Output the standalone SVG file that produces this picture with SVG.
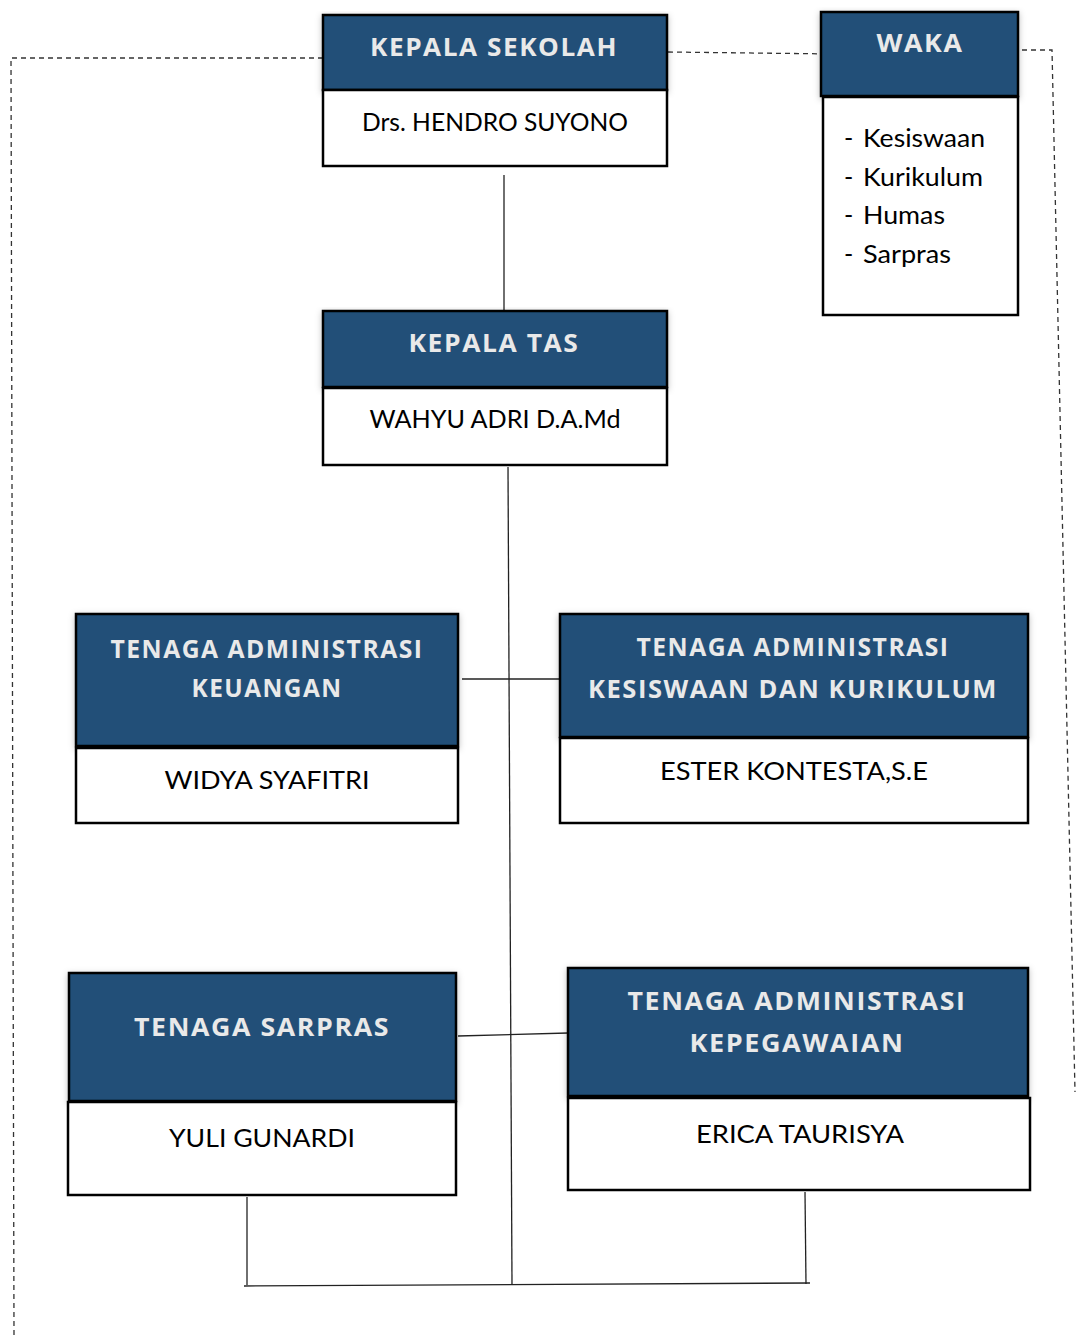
<svg xmlns="http://www.w3.org/2000/svg" width="1076" height="1338" viewBox="0 0 1076 1338">
<style>
.hd{fill:#214f78;stroke:#000;stroke-width:2.5}
.bd{fill:#fff;stroke:#000;stroke-width:2.5}
.ht{font-family:"Open Sans","Liberation Sans",sans-serif;font-weight:bold;font-size:25px;fill:#e9e9e9;text-anchor:middle;letter-spacing:1.5px}
.nt{font-family:Lato,"Open Sans",sans-serif;font-size:25px;fill:#000;text-anchor:middle}
.lt{font-family:Lato,"Open Sans",sans-serif;font-size:25px;fill:#000}
.ln{stroke:#222;stroke-width:1.3;fill:none}
.ds{stroke:#333;stroke-width:1.3;fill:none;stroke-dasharray:5,4}
</style>
<defs>
<filter id="sh" x="-5%" y="-5%" width="110%" height="115%">
<feDropShadow dx="0" dy="2" stdDeviation="3" flood-color="#000" flood-opacity="0.25"/>
</filter>
</defs>
<g id="connectors">
<path class="ds" d="M323,58 H11 L14,1335"/>
<path class="ds" d="M668,52 L835,54"/>
<path class="ds" d="M1022,50 H1052 L1075,1092"/>
<path class="ln" d="M504,175 V311"/>
<path class="ln" d="M508,467 L512,1285"/>
<path class="ln" d="M462,679 H560"/>
<path class="ln" d="M458,1036 L568,1033"/>
<path class="ln" d="M247,1197 V1285"/>
<path class="ln" d="M244,1286 L810,1283"/>
<path class="ln" d="M805,1192 L806,1284"/>
</g>
<g id="kepala-sekolah">
<rect class="hd" x="323" y="15" width="344" height="75" filter="url(#sh)"/>
<rect class="bd" x="323" y="90" width="344" height="76"/>
<text class="ht" x="494" y="56" textLength="248" lengthAdjust="spacingAndGlyphs">KEPALA SEKOLAH</text>
<text class="nt" x="495" y="131" textLength="266" lengthAdjust="spacingAndGlyphs">Drs. HENDRO SUYONO</text>
</g>
<g id="waka">
<rect class="hd" x="821" y="12" width="197" height="84" filter="url(#sh)"/>
<rect class="bd" x="823" y="97" width="195" height="218"/>
<text class="ht" x="920" y="52" textLength="87" lengthAdjust="spacingAndGlyphs">WAKA</text>
<text class="lt" x="844" y="147">-</text><text class="lt" x="863" y="147" textLength="122" lengthAdjust="spacingAndGlyphs">Kesiswaan</text>
<text class="lt" x="844" y="186">-</text><text class="lt" x="863" y="186" textLength="120" lengthAdjust="spacingAndGlyphs">Kurikulum</text>
<text class="lt" x="844" y="224">-</text><text class="lt" x="863" y="224" textLength="82" lengthAdjust="spacingAndGlyphs">Humas</text>
<text class="lt" x="844" y="263">-</text><text class="lt" x="863" y="263" textLength="88" lengthAdjust="spacingAndGlyphs">Sarpras</text>
</g>
<g id="kepala-tas">
<rect class="hd" x="323" y="311" width="344" height="76" filter="url(#sh)"/>
<rect class="bd" x="323" y="388" width="344" height="77"/>
<text class="ht" x="494" y="352" textLength="171" lengthAdjust="spacingAndGlyphs">KEPALA TAS</text>
<text class="nt" x="495" y="428" textLength="251" lengthAdjust="spacingAndGlyphs">WAHYU ADRI D.A.Md</text>
</g>
<g id="tenaga-keuangan">
<rect class="hd" x="76" y="614" width="382" height="132" filter="url(#sh)"/>
<rect class="bd" x="76" y="748" width="382" height="75"/>
<text class="ht" x="267" y="658" textLength="313" lengthAdjust="spacingAndGlyphs">TENAGA ADMINISTRASI</text>
<text class="ht" x="267" y="697" textLength="151" lengthAdjust="spacingAndGlyphs">KEUANGAN</text>
<text class="nt" x="267" y="789" textLength="205" lengthAdjust="spacingAndGlyphs">WIDYA SYAFITRI</text>
</g>
<g id="tenaga-kesiswaan">
<rect class="hd" x="560" y="614" width="468" height="123" filter="url(#sh)"/>
<rect class="bd" x="560" y="738" width="468" height="85"/>
<text class="ht" x="793" y="656" textLength="313" lengthAdjust="spacingAndGlyphs">TENAGA ADMINISTRASI</text>
<text class="ht" x="793" y="698" textLength="410" lengthAdjust="spacingAndGlyphs">KESISWAAN DAN KURIKULUM</text>
<text class="nt" x="794" y="780" textLength="268" lengthAdjust="spacingAndGlyphs">ESTER KONTESTA,S.E</text>
</g>
<g id="tenaga-sarpras">
<rect class="hd" x="69" y="973" width="387" height="128" filter="url(#sh)"/>
<rect class="bd" x="68" y="1102" width="388" height="93"/>
<text class="ht" x="262" y="1036" textLength="256" lengthAdjust="spacingAndGlyphs">TENAGA SARPRAS</text>
<text class="nt" x="262" y="1147" textLength="186" lengthAdjust="spacingAndGlyphs">YULI GUNARDI</text>
</g>
<g id="tenaga-kepegawaian">
<rect class="hd" x="568" y="968" width="460" height="128" filter="url(#sh)"/>
<rect class="bd" x="568" y="1098" width="462" height="92"/>
<text class="ht" x="797" y="1010" textLength="339" lengthAdjust="spacingAndGlyphs">TENAGA ADMINISTRASI</text>
<text class="ht" x="797" y="1052" textLength="215" lengthAdjust="spacingAndGlyphs">KEPEGAWAIAN</text>
<text class="nt" x="800" y="1143" textLength="208" lengthAdjust="spacingAndGlyphs">ERICA TAURISYA</text>
</g>
</svg>
